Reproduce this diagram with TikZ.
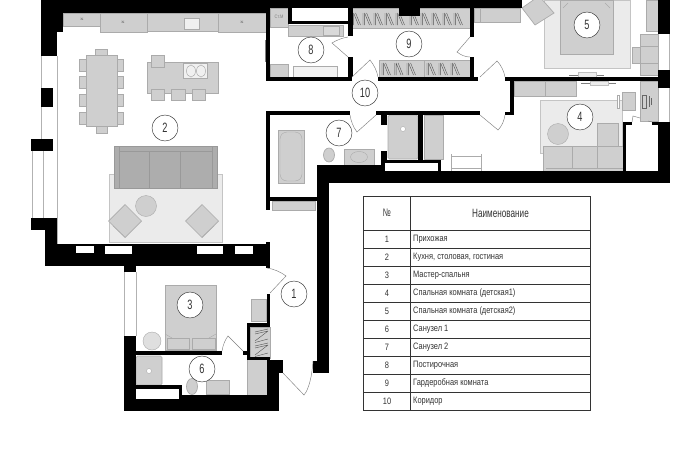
\documentclass[tikz,border=0pt]{standalone}
\usepackage{fontspec}
\newfontfamily\gost[FakeStretch=0.8]{Liberation Sans}
\newfontfamily\gostn[FakeStretch=0.68]{Liberation Sans}
\usetikzlibrary{calc}
\definecolor{fur}{gray}{0.81}
\definecolor{furl}{gray}{0.67}
\definecolor{rugc}{gray}{0.92}
\definecolor{sofa}{gray}{0.68}
\definecolor{ink}{gray}{0.2}
\tikzset{
 wall/.style={fill=black,draw=none},
 furn/.style={fill=fur,draw=furl,line width=0.7pt},
 rugb/.style={fill=rugc,draw=furl!70,line width=0.6pt},
 dark/.style={fill=sofa,draw=gray!80,line width=0.7pt},
 winl/.style={draw=gray!60,line width=0.6pt},
 doorl/.style={draw=gray,line width=0.45pt},
 num/.style={circle,draw=ink,line width=0.45pt,minimum size=26pt,inner sep=0pt,fill=white,text=ink,font=\gostn\fontsize{13.5}{14}\selectfont},
 cell/.style={text=ink,font=\gost\fontsize{9.3}{10}\selectfont,inner sep=0pt},
 zig/.style={draw=gray!65!black,line width=0.4pt},
 tline/.style={draw=ink,line width=0.55pt},
}
\newcommand{\hang}[3]{\foreach \xx in {#1} {\draw[zig] (\xx,#2) -- (\xx,#3) (\xx+1.6,#2) -- (\xx+1.6,#3) (\xx+1.6,#2) -- (\xx+6.5,#3) (\xx+3.6,#2) -- (\xx+8.5,#3);}}
\begin{document}
\begin{tikzpicture}[x=1pt,y=-1pt]
\path[use as bounding box,fill=white] (0,0) rectangle (680,453);
% rugs
\foreach \a/\b/\c/\d in {109/174/222/242, 544/0/630/68, 540/100/622/153}
  \draw[rugb] (\a,\b) rectangle (\c,\d);
% kitchen
\foreach \a/\b/\c/\d in {63/13/100/26,100/13/147/32,147/13/218/31,218/13/266/32,
  86/55/117/126,79/59/86/71,79/76/86/88,79/94/86/106,79/112/86/124,
  117/59/123/71,117/76/123/88,117/94/123/106,117/112/123/124,95/49/107/55,96/126/107/133,
  147/62/218/93,151/55/164/67,151/89/164/100,171/89/185/100,192/89/205/100}
  \draw[furn] (\a,\b) rectangle (\c,\d);
\draw[fill=gray!12,draw=furl] (184,18) rectangle (199,29);
\draw[fill=gray!12,draw=furl] (183,63) rectangle (207,78);
\foreach \p in {(191,71),(201,71)} \draw[furl,line width=0.5pt] \p ellipse (4.5 and 6);
\foreach \p in {(82,19),(123,22.5),(242,22)} \node[inner sep=0pt,text=gray!70!black,font=\fontsize{5}{5}\selectfont] at \p {x};
% sofa
\draw[dark] (114,146) rectangle (217,188);
\draw[gray!80,line width=0.7pt] (119,146) -- (119,188) (212,146) -- (212,188) (119,151) -- (212,151) (149,151) -- (149,188) (180,151) -- (180,188);
\fill[fur] (146,206) circle (10.5); \draw[furl] (146,206) circle (10.5);
\foreach \cx in {125,202} {
  \draw[furn] (\cx,221) ++(0,-16.5) -- ++(16.5,16.5) -- ++(-16.5,16.5) -- ++(-16.5,-16.5) -- cycle;
}
\draw[furl] (113,226) -- (125,237) (214,226) -- (202,237);
% room 8
\foreach \a/\b/\c/\d in {270/8/288/27,288/25/343/36,270/64/288/77}
  \draw[furn] (\a,\b) rectangle (\c,\d);
\draw[furn,fill=gray!30] (323,26) rectangle (339,35);
\draw[fill=gray!10,draw=furl] (293,66) rectangle (337,77);
\node[inner sep=0pt,text=gray,font=\gost\fontsize{5}{5}\selectfont] at (279,17) {Ст.М};
\draw[gray,line width=0.7pt] (265,40) -- (265,62);
% room 9
\draw[furn] (349,8) rectangle (470,28);
\draw[furn] (379,60) rectangle (470,77);
\hang{352,363,374,385,396,410,421,432,443,454}{13}{25}
\hang{382,394.5,407,427,439,451}{63}{75}
\draw[furl] (424,60) -- (424,77);
\draw[furn] (474,8) rectangle (520,22);
% room 7
\draw[furn] (278,130) rectangle (304,183);
\draw[furl,rounded corners=7pt] (280,132) rectangle (302,181);
\draw[furn] (329,155) ellipse (5.5 and 7);
\draw[furn] (344,149) rectangle (374,165);
\draw[furl] (359,157) ellipse (8.5 and 5.5);
\draw[furn,rounded corners=1.5pt] (388,115) rectangle (418,159);
\draw[furn] (424,115) rectangle (443,159);
\draw[furl,fill=white] (403,129) circle (2.5);
\draw[furn] (272,201) rectangle (315,210);
\draw[furl,line width=0.9pt] (451.5,154) -- (451.5,171) (481.5,154) -- (481.5,171) (451,156) -- (482,156) (451,168) -- (482,168);
% room 5
\draw[furn] (560,0) rectangle (613,54);
\draw[furl] (563,8) -- (568,3) (610,8) -- (605,3);
\draw[furn] (538,13) ++(-16,-5) -- ++(17,-12) -- ++(15,17) -- ++(-19,12) -- cycle;
\draw[furn] (480,8) rectangle (520,22);
\foreach \a/\b/\c/\d in {646/0/658/31,640/34/658/75,632/47/640/63,514/81/576/96,597/123/618/172,543/146/623/172,622/92/635/110,640/81/658/121}
  \draw[furn] (\a,\b) rectangle (\c,\d);
\draw[furl] (640,46) -- (658,46) (640,63) -- (658,63) (545,81) -- (545,96) (572,146) -- (572,168) (597,146) -- (597,168) (546,168) -- (623,168);
\draw[furl,fill=white] (617,95) rectangle (619,108);
\draw[gray!80!black,line width=0.5pt] (642,95) rectangle (646,108) (649,96) -- (649,107) (651,98) -- (651,105);
\fill[fur] (558,134) circle (10.5); \draw[furl] (558,134) circle (10.5);
\draw[gray,line width=0.5pt] (569,75) -- (604,75) (581,83) -- (616,83);
\draw[gray!50,fill=gray!15,line width=0.4pt] (578,72) rectangle (596,77) (590,81) rectangle (608,85);
\draw[winl] (669,34) -- (669,70) (669,88) -- (669,122);
% room 3
\draw[furn] (165,285) rectangle (216,350);
\draw[furn] (167,338) rectangle (189,349);
\draw[furn] (192,338) rectangle (215,349);
\draw[furl] (165,334) -- (172,338) (216,334) -- (209,338);
\fill[gray!25] (152,341) circle (9); \draw[furl] (152,341) circle (9);
\draw[furn] (251,299) rectangle (266,321);
\draw[furn] (250,327) rectangle (270,358);
\foreach \y in {330,344} \draw[zig] (255,\y+2) -- (268,\y-1) (255,\y+4) -- (268,\y+1) (255,\y+11) -- (268,\y+1) (255,\y+12.5) -- (268,\y+9);
% room 6
\draw[furn,rounded corners=1.5pt] (136,356) rectangle (162,385);
\draw[furl,fill=white] (149,371) circle (2.5);
\draw[furn] (192,386.5) ellipse (5.5 and 8);
\draw[furn] (206,380) rectangle (229,394);
\draw[furn] (247,359) rectangle (267,399);
\draw[furl,fill=gray!10] (230,396.5) rectangle (246,399);
% window lines
\draw[winl] (57,56) -- (57,244)
 (41.5,56) -- (41.5,88) (41.5,107) -- (41.5,139) (43.5,151) -- (43.5,218) (32,151) -- (32,218)
 (124.5,272) -- (124.5,336) (136,272) -- (136,336)
 (174,265) -- (208,265);
% walls
\foreach \a/\b/\c/\d in {
 41/0/522/8, 41/0/270/13, 41/0/57/56, 57/0/63/32,
 41/88/53/107, 31/139/53/151, 31/218/56/230, 45/218/57/266, 45/244/270/266,
 266/8/270/81, 266/242/270/268,
 124/258/136/272, 124/336/136/411, 124/395/279/411, 136/385/182/389, 179/385/182/396,
 136/351/222/355, 243/351/250/355, 247/323/250/358, 247/323/270/327, 267/294/270/327, 247/357/270/360,
 267/360/283/373, 267/360/279/411, 313/361/329/373,
 266/77/352/81, 378/77/478/81, 288/8/292/23, 288/21/348/24, 348/8/353/36, 348/57/353/77,
 470/8/474/37, 470/57/474/77, 399/0/420/16,
 266/111/350/115, 376/111/480/115, 266/111/270/210, 267/197/317/201,
 317/165/329/373, 317/165/381/172, 317/171/670/183, 381/115/387/125, 381/151/387/172,
 385/160/441/163, 438/160/441/172, 418/115/423/160,
 658/0/670/34, 658/70/670/88, 658/122/670/183, 623/122/626/172, 623/122/632/125, 652/122/658/125,
 505/77/658/81, 510/81/514/113, 505/112/514/115}
 \fill[wall] (\a,\b) rectangle (\c,\d);
% openings in walls
\foreach \a/\b/\c/\d in {385/163/438/171,76/246/94/253,105/246/132/254,197/246/223/254,235/246/253/254,136/389/179/395}
 \fill[white] (\a,\b) rectangle (\c,\d);
\fill[white] (136,395) rectangle (179,399);
% doors
\draw[doorl] (352,77) -- (370,60) .. controls (374,65) and (377,71) .. (378,77);
\draw[doorl] (376,115) -- (357,132) .. controls (353,127) and (351,121) .. (350,115);
\draw[doorl] (348,37) .. controls (342,38) and (337,40) .. (332,43) -- (348,57);
\draw[doorl] (470,37) -- (457,52) .. controls (461,55) and (465,57) .. (470,57);
\draw[doorl] (480,77) -- (497,61) .. controls (501,65) and (504,71) .. (505,77);
\draw[doorl] (480,115) -- (498,130) .. controls (502,126) and (504,121) .. (505,115);
\draw[doorl] (267,268) .. controls (274,269) and (281,272) .. (286,276) -- (270,293);
\draw[doorl] (222,351) .. controls (223,345) and (225,340) .. (228,336) -- (243,351);
\draw[doorl] (283,373) -- (304,395) .. controls (309,389) and (312,376) .. (313,361);
\draw[doorl] (632,122) -- (633,116) -- (640,118) (652,122) -- (648,121);
% room numbers
\node[num] (n1) at (294,294) {1};
\node[num] (n2) at (165,128) {2};
\node[num] (n3) at (190,305) {3};
\node[num] (n4) at (580,117) {4};
\node[num] (n5) at (587,25) {5};
\node[num] (n6) at (202,369) {6};
\node[num] (n7) at (339,133) {7};
\node[num] (n8) at (311,50) {8};
\node[num] (n9) at (409,44) {9};
\node[num] (n10) at (365,93) {10};
% table
\draw[tline] (363,196.5) rectangle (590,410);
\draw[tline] (410.5,196.5) -- (410.5,410);
\foreach \y in {230,248,266,284,302,320,338,356,374,392} \draw[tline] (363,\y) -- (590,\y);
\node[cell,font=\gostn\fontsize{11}{12}\selectfont] (hA) at (387,213) {№};
\node[cell,font=\gostn\fontsize{12}{13}\selectfont] (hB) at (500.5,213) {Наименование};
\foreach \i/\t [count=\k] in {1/Прихожая,2/{Кухня, столовая, гостиная},3/Мастер-спальня,4/{Спальная комната (детская1)},5/{Спальная комната (детская2)},6/Санузел 1,7/Санузел 2,8/Постирочная,9/Гардеробная комната,10/Коридор}{
 \node[cell] (a\k) at (387,{230+18*(\k-1)+9}) {\i};
 \node[cell,anchor=west] (b\k) at (413,{230+18*(\k-1)+9}) {\t};
}
\end{tikzpicture}
\end{document}
